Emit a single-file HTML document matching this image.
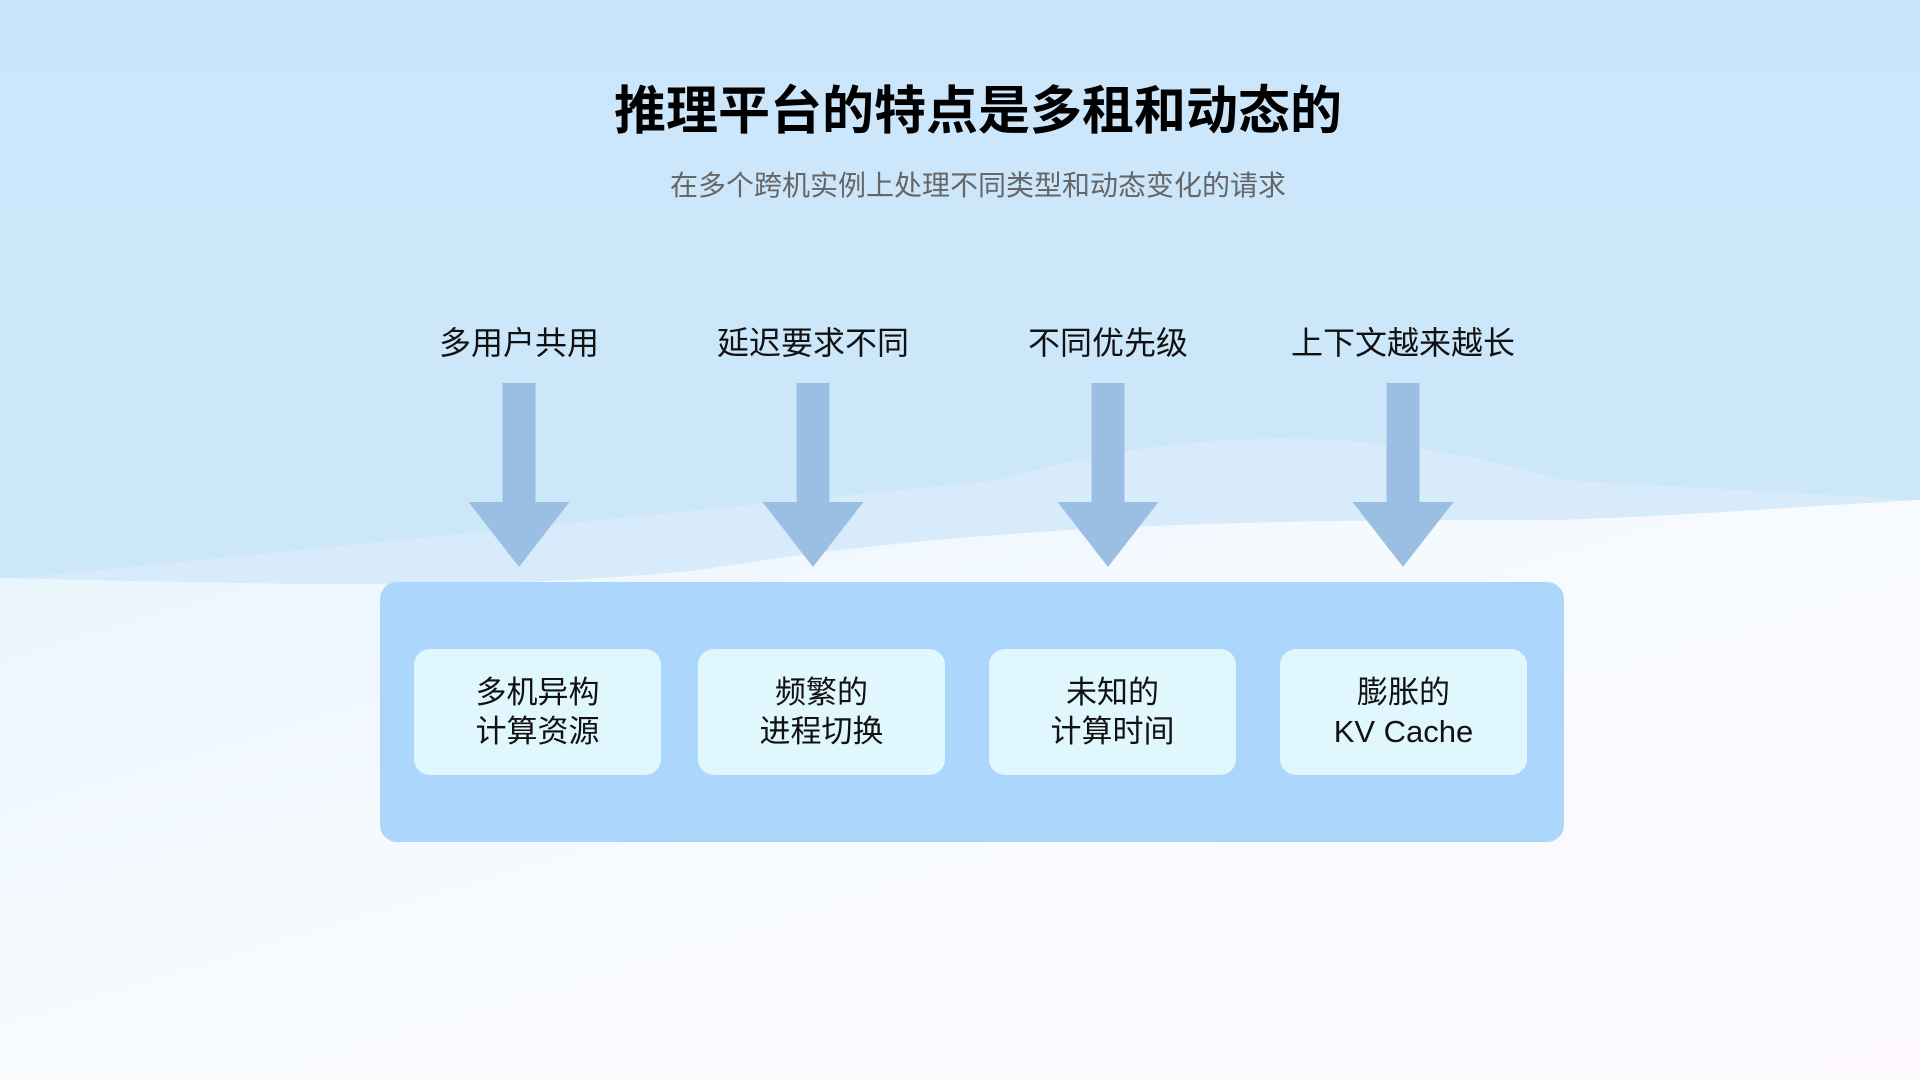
<!DOCTYPE html>
<html><head><meta charset="utf-8"><style>
body{margin:0;width:1920px;height:1080px;overflow:hidden;position:relative;font-family:"Liberation Sans","Noto Sans CJK SC",sans-serif;background:#cce6fa}
.abs{position:absolute}
.t{left:0;width:1956px;text-align:center}
.lab{width:300px;text-align:center;font-size:32px;color:#111;top:318px}
.inner{background:#e0f7fe;border-radius:16px;top:649px;width:247px;height:126px;display:flex;align-items:center;justify-content:center;text-align:center;font-size:31px;line-height:39px;color:#111}
</style></head><body>
<svg class="abs" style="left:0;top:0" width="1920" height="1080">
<defs>
<linearGradient id="top" x1="0" y1="0" x2="0" y2="1"><stop offset="0" stop-color="#cbe6fb"/><stop offset="1" stop-color="#cfe8f9"/></linearGradient>
<linearGradient id="bot" x1="0" y1="0" x2="1" y2="1"><stop offset="0" stop-color="#e8f5fd"/><stop offset="0.5" stop-color="#f8fbfe"/><stop offset="1" stop-color="#fdf9fe"/></linearGradient>
</defs>
<rect width="1920" height="1080" fill="url(#top)"/>
<path d="M1000 480 C1200 420 1400 430 1560 480 L1920 500 L1920 1080 L0 1080 L0 580 Z" fill="#dcedfa" opacity="0.7"/>
<path d="M0 578 C300 585 500 590 700 570 C1000 520 1300 520 1560 520 C1700 515 1820 505 1920 500 L1920 1080 L0 1080 Z" fill="url(#bot)"/>
</svg>
<div class="abs t" style="top:69px;font-size:52px;font-weight:bold;color:#000">推理平台的特点是多租和动态的</div>
<div class="abs t" style="top:164px;font-size:28px;color:#666">在多个跨机实例上处理不同类型和动态变化的请求</div>
<div class="abs lab" style="left:369px">多用户共用</div>
<div class="abs lab" style="left:663px">延迟要求不同</div>
<div class="abs lab" style="left:958px">不同优先级</div>
<div class="abs lab" style="left:1253px">上下文越来越长</div>
<svg class="abs" style="left:0;top:0" width="1920" height="1080">
<g fill="#9bbfe3">
<path d="M502.5 383h33v119h34l-50.5 65l-50.5 -65h34z"/>
<path d="M796.5 383h33v119h34l-50.5 65l-50.5 -65h34z"/>
<path d="M1091.5 383h33v119h34l-50.5 65l-50.5 -65h34z"/>
<path d="M1386.5 383h33v119h34l-50.5 65l-50.5 -65h34z"/>
</g>
</svg>
<div class="abs" style="left:380px;top:582px;width:1184px;height:260px;background:#acd6fc;border-radius:17px"></div>
<div class="abs inner" style="left:414px">多机异构<br>计算资源</div>
<div class="abs inner" style="left:698px">频繁的<br>进程切换</div>
<div class="abs inner" style="left:989px">未知的<br>计算时间</div>
<div class="abs inner" style="left:1280px">膨胀的<br>KV Cache</div>
</body></html>
